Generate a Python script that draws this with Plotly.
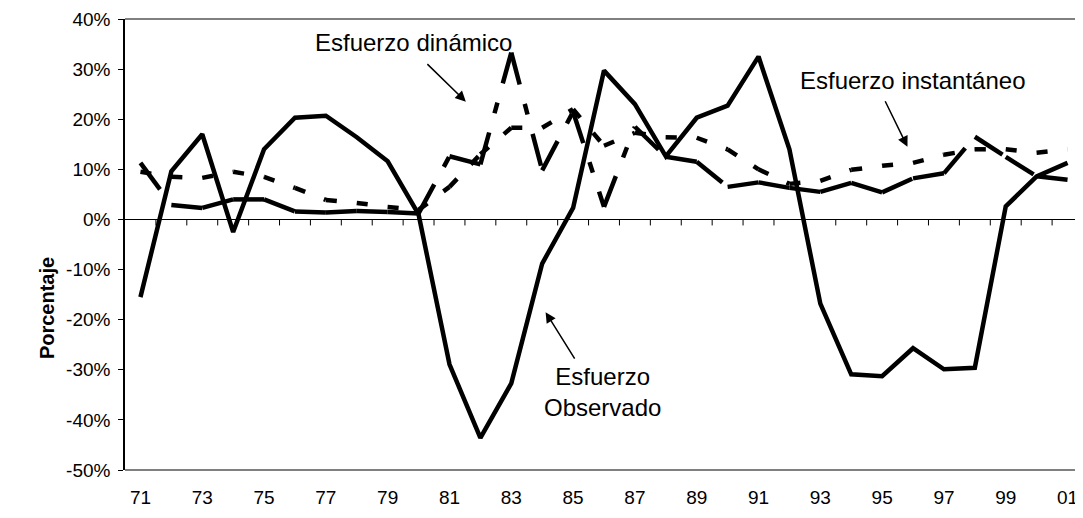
import plotly.graph_objects as go

years = ["71", "72", "73", "74", "75", "76", "77", "78", "79", "80",
         "81", "82", "83", "84", "85", "86", "87", "88", "89", "90",
         "91", "92", "93", "94", "95", "96", "97", "98", "99", "00", "01"]

# valores en porcentaje
observado = [-15.5, 9.6, 17.0, -2.5, 14.0, 20.3, 20.7, 16.4, 11.6, 1.0,
             -28.9, -43.6, -32.7, -8.8, 2.3, 29.7, 23.0, 12.6, 20.3, 22.7,
             32.5, 14.0, -16.8, -30.9, -31.3, -25.7, -29.9, -29.6, 2.6, 8.6, 11.3]
dinamico = [11.3, 2.9, 2.3, 4.0, 4.0, 1.6, 1.4, 1.7, 1.5, 1.2,
            12.6, 11.0, 33.3, 9.8, 21.5, 2.5, 18.5, 12.5, 11.5, 6.5,
            7.4, 6.3, 5.5, 7.3, 5.4, 8.2, 9.2, 16.5, 12.5, 8.6, 7.9]
instantaneo = [9.5, 8.5, 8.3, 9.5, 8.5, 6.3, 3.9, 3.3, 2.5, 1.9,
               6.5, 13.0, 18.3, 18.3, 22.0, 14.7, 17.3, 16.4, 16.3, 14.0,
               10.0, 7.1, 7.7, 9.9, 10.7, 11.3, 12.9, 14.0, 14.0, 13.3, 14.0]

y_ticks = list(range(-50, 41, 10))
y_ticktext = [f"{v}%" for v in y_ticks]
y_range = [-50, 40]

n = len(years)
pos = list(range(n))          # posicion de cada año en el eje
x_range = [-0.5, n - 0.5]
boundaries = [p + 0.5 for p in pos[:-1]]

FONT = "Arial, Liberation Sans, sans-serif"
plot_h = 510 - 11 - 48

fig = go.Figure()


def add_segments(values, dash, width):
    # el patron de trazos empieza de nuevo en cada punto, como en Excel
    for i in range(n - 1):
        fig.add_trace(go.Scatter(x=pos[i:i + 2], y=values[i:i + 2], mode="lines",
                                 line=dict(color="black", width=width, dash=dash),
                                 showlegend=False, hoverinfo="skip"))


add_segments(instantaneo, "11px,20px", 4.5)
add_segments(dinamico, "33px,20px,11px,20px", 4.5)
fig.add_trace(go.Scatter(x=pos, y=observado, mode="lines",
                         line=dict(color="black", width=4.5),
                         showlegend=False, hoverinfo="skip"))

# marcas bajo la linea de 0% entre categorias (6 px hacia abajo)
tick_len = 6 * (y_range[1] - y_range[0]) / plot_h
fig.add_trace(go.Scatter(x=boundaries, y=[0] * len(boundaries), mode="markers",
                         marker=dict(size=1, opacity=0),
                         error_y=dict(type="data", symmetric=False,
                                      array=[0] * len(boundaries),
                                      arrayminus=[tick_len] * len(boundaries),
                                      width=0, color="black", thickness=1),
                         showlegend=False, hoverinfo="skip"))

# la pagina tiene 8px de margen en el body
fig.update_layout(
    width=1075, height=510,
    margin=dict(l=117, r=0, t=11, b=48),
    paper_bgcolor="white", plot_bgcolor="white",
    font=dict(family=FONT, size=19, color="black"),
    xaxis=dict(range=x_range, tickvals=pos[::2], ticktext=years[::2],
               ticks="", anchor="free", position=50 / 90,
               showline=True, linecolor="black", linewidth=1,
               ticklabelstandoff=261, showgrid=False, zeroline=False),
    yaxis=dict(range=y_range, tickvals=y_ticks, ticktext=y_ticktext,
               ticks="outside", ticklen=5, tickcolor="black", showline=True,
               linecolor="black", linewidth=1.5, showgrid=False,
               zeroline=True, zerolinecolor="black", zerolinewidth=1,
               ticklabelstandoff=4),
    shapes=[
        dict(type="line", xref="paper", yref="paper", x0=0, x1=1, y0=1, y1=1,
             line=dict(color="#808080", width=2), layer="below"),
        dict(type="line", xref="paper", yref="paper", x0=0, x1=1, y0=0, y1=0,
             line=dict(color="#808080", width=2), layer="below"),
    ],
    annotations=[
        dict(text="Esfuerzo dinámico", x=8.82, y=35.4, xref="x", yref="y",
             showarrow=False, font=dict(size=24)),
        dict(text="", x=10.53, y=23.5, ax=-40, ay=-39, xref="x", yref="y",
             showarrow=True, arrowhead=2, arrowsize=1.4, arrowwidth=1.5,
             arrowcolor="black"),
        dict(text="Esfuerzo instantáneo", x=24.98, y=27.8, xref="x", yref="y",
             showarrow=False, font=dict(size=24)),
        dict(text="", x=24.82, y=14.5, ax=-23, ay=-47, xref="x", yref="y",
             showarrow=True, arrowhead=2, arrowsize=1.4, arrowwidth=1.5,
             arrowcolor="black"),
        dict(text="Esfuerzo<br>Observado", x=14.95, y=-34.4, xref="x", yref="y",
             showarrow=False, font=dict(size=24)),
        dict(text="", x=13.11, y=-18.5, ax=30, ay=48, xref="x", yref="y",
             showarrow=True, arrowhead=2, arrowsize=1.4, arrowwidth=1.5,
             arrowcolor="black"),
        dict(text="<b>Porcentaje</b>", x=-0.0814, y=0.359, xref="paper",
             yref="paper", textangle=-90, showarrow=False,
             xanchor="center", yanchor="middle", font=dict(size=20)),
    ],
)

fig.write_html("out.html")
